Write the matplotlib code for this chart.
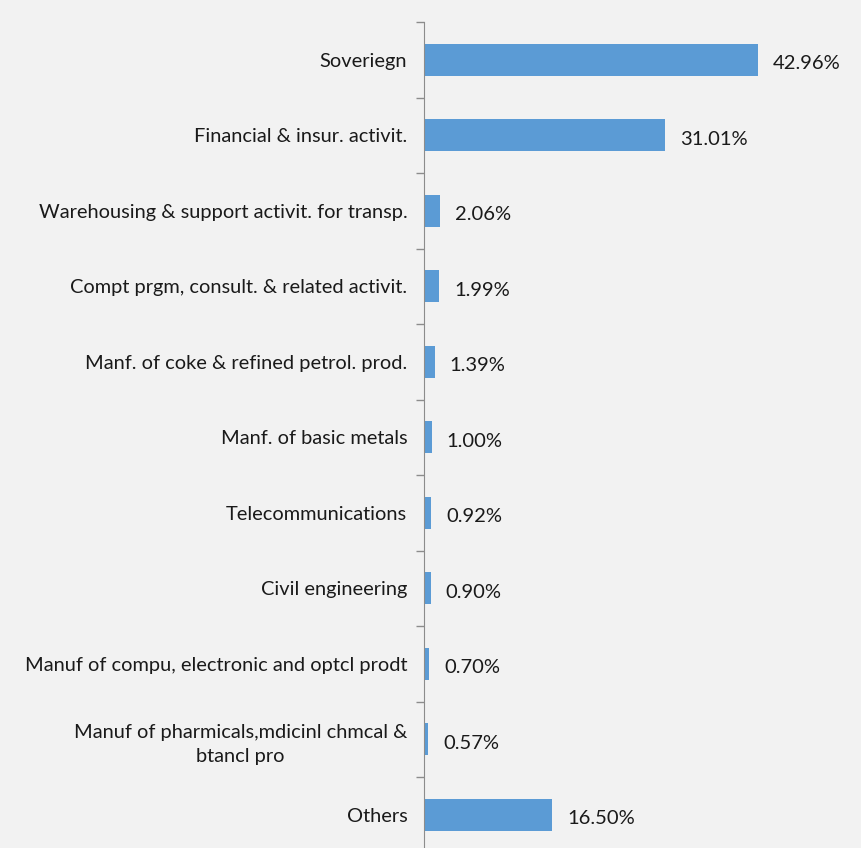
import matplotlib.pyplot as plt
import numpy as np

# --- data ---
sectors = [
    "Soveriegn",
    "Financial & insur. activit.",
    "Warehousing & support activit. for transp.",
    "Compt prgm, consult. & related activit.",
    "Manf. of coke & refined petrol. prod.",
    "Manf. of basic metals",
    "Telecommunications",
    "Civil engineering",
    "Manuf of compu, electronic and optcl prodt",
    "Manuf of pharmicals,mdicinl chmcal &\nbtancl pro",
    "Others",
]
shares = [42.96, 31.01, 2.06, 1.99, 1.39, 1.00, 0.92, 0.90, 0.70, 0.57, 16.50]

bg = "#F2F2F2"
plt.rcParams['font.family'] = ['Lato', 'DejaVu Sans']

fig = plt.figure(figsize=(8.61, 8.48), dpi=100, facecolor=bg)
ax = fig.add_axes([424 / 861, -4.5 / 848, 389 / 861, 830.5 / 848])
ax.set_facecolor(bg)

y = np.arange(len(sectors))
bars = ax.barh(y, shares, height=0.43, color="#5B9BD5")

ax.set_xlim(0, 50)
ax.set_ylim(len(sectors) - 0.5, -0.5)

for rect, v in zip(bars, shares):
    ax.text(rect.get_width() + 1.9, rect.get_y() + rect.get_height() / 2 + 0.05,
            f"{v:.2f}%", va="center", ha="left", fontsize=14.5, color="#1a1a1a")

ax.set_yticks(y)
ax.set_yticklabels(sectors, fontsize=14.4, color="#1a1a1a")
ax.set_yticks(np.arange(-0.5, len(sectors), 1), minor=True)
ax.tick_params(axis="y", which="minor", length=6, width=1, color="#8c8c8c", direction="out")
ax.tick_params(axis="y", which="major", length=0, pad=12)

# center multi-line labels like the source
for lbl in ax.get_yticklabels():
    lbl.set_multialignment("center")
    lbl.set_linespacing(1.55)

ax.set_xticks([])
for s in ["top", "right", "bottom"]:
    ax.spines[s].set_visible(False)
ax.spines["left"].set_color("#8c8c8c")

fig.savefig("out.png", dpi=100, facecolor=bg)
